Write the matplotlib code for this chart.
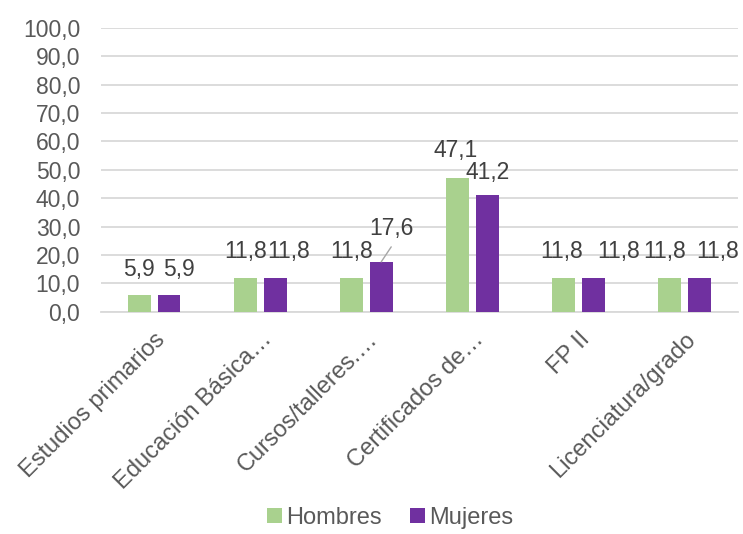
import numpy as np
import matplotlib.pyplot as plt
from matplotlib.ticker import FuncFormatter

plt.rcParams['font.family'] = ['Liberation Sans', 'DejaVu Sans']

categorias = ['Estudios primarios', 'Educación Básica…', 'Cursos/talleres.…',
              'Certificados de…', 'FP II', 'Licenciatura/grado']
hombres = [5.9, 11.8, 11.8, 47.1, 11.8, 11.8]
mujeres = [5.9, 11.8, 17.6, 41.2, 11.8, 11.8]

verde = '#A9D18E'
morado = '#7030A0'
gris_texto = '#595959'
gris_datos = '#404040'

fig = plt.figure(figsize=(7.43, 5.34), dpi=100)
ax = fig.add_axes([0.136, 0.416, 0.857, 0.532])

x = np.arange(len(categorias))
ancho = 0.215
sep = 0.14
b1 = ax.bar(x - sep, hombres, ancho, color=verde, label='Hombres', zorder=3)
b2 = ax.bar(x + sep, mujeres, ancho, color=morado, label='Mujeres', zorder=3)

# desplazamientos (px) de las etiquetas de datos para que no se pisen
desp_h = [(0, 26), (0, 27), (0, 27), (-2, 28), (-2, 27), (-5, 27)]
desp_m = [(10, 26), (14, 27), (10, 33), (0, 22), (25, 27), (18, 27)]

def etiquetas(barras, valores, desp):
    for b, v, (dx, dy) in zip(barras, valores, desp):
        cx = b.get_x() + b.get_width() / 2
        ax.annotate(f'{v:.1f}'.replace('.', ','), (cx, v), xytext=(dx, dy),
                    textcoords='offset pixels', ha='center', va='center',
                    fontsize=16.5, color=gris_datos, zorder=4)

etiquetas(b1, hombres, desp_h)
etiquetas(b2, mujeres, desp_m)

# línea guía de la etiqueta 17,6
cx = b2[2].get_x() + b2[2].get_width() / 2
ax.annotate('', (cx, mujeres[2]), xytext=(10, 15), textcoords='offset pixels',
            arrowprops=dict(arrowstyle='-', color='#A6A6A6', lw=1,
                            shrinkA=0, shrinkB=0))

ax.set_ylim(0, 100)
ax.set_yticks(np.arange(0, 101, 10))
ax.yaxis.set_major_formatter(FuncFormatter(lambda v, p: f'{v:.1f}'.replace('.', ',')))
ax.set_xlim(-0.5, len(categorias) - 0.5)
ax.set_xticks(x)
ax.set_xticklabels(categorias, rotation=45, ha='right', va='top',
                   rotation_mode='anchor')
ax.tick_params(axis='y', length=0, pad=15, labelsize=16.5, labelcolor=gris_texto)
ax.tick_params(axis='x', length=0, pad=12, labelsize=17, labelcolor=gris_texto)

ax.grid(axis='y', color='#D9D9D9', lw=1.3, zorder=0)
for s in ['top', 'right', 'left']:
    ax.spines[s].set_visible(False)
ax.spines['bottom'].set_color('#D9D9D9')
ax.spines['bottom'].set_linewidth(1.3)

fig.legend(handles=[b1, b2], loc='lower center', bbox_to_anchor=(0.525, -0.03),
           ncol=2, frameon=False, fontsize=17, handlelength=0.65, handleheight=0.65,
           handletextpad=0.15, columnspacing=1.2, labelcolor=gris_texto)

fig.savefig('out.png', dpi=100)
